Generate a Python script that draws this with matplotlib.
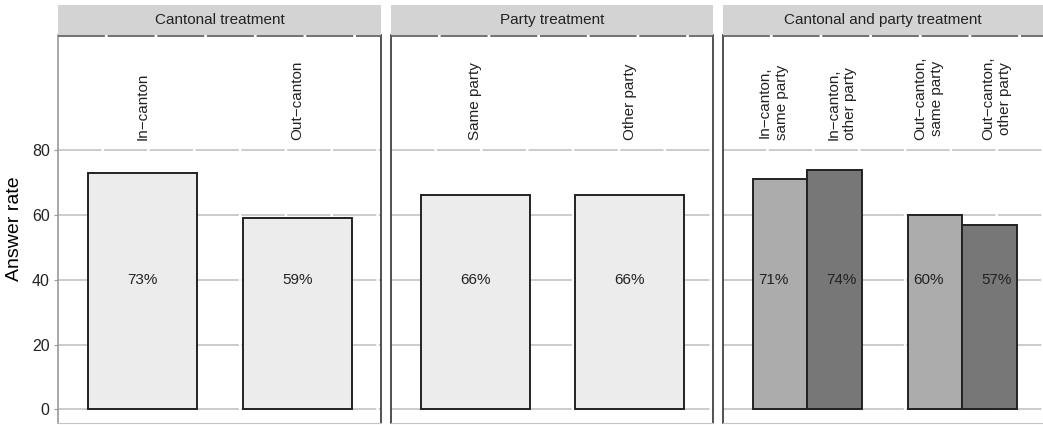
import matplotlib
matplotlib.use("Agg")
import matplotlib.pyplot as plt
from matplotlib.patches import Rectangle

plt.rcParams['font.family'] = ['Liberation Sans', 'DejaVu Sans']

# ---- data ----
panel_titles = ["Cantonal treatment", "Party treatment", "Cantonal and party treatment"]
p1_cats = ["In\u2212canton", "Out\u2212canton"]
p1_vals = [73, 59]
p2_cats = ["Same party", "Other party"]
p2_vals = [66, 66]
p3_cats = ["In\u2212canton,\nsame party", "In\u2212canton,\nother party",
           "Out\u2212canton,\nsame party", "Out\u2212canton,\nother party"]
p3_vals = [71, 74, 60, 57]
yticks = [0, 20, 40, 60, 80]
ylabel = "Answer rate"

W, H = 1043, 425
fig = plt.figure(figsize=(W / 100, H / 100), dpi=100)

panels_px = [(58, 381), (391, 713), (723, 1046)]
top_px, bot_px = 35, 423
strip_top = 5
grid_c = "#c4c4c4"
dark = "#333333"

axes = []
for i, (x0, x1) in enumerate(panels_px):
    ax = fig.add_axes([x0 / W, (H - bot_px) / H, (x1 - x0) / W, (bot_px - top_px) / H])
    ax.set_ylim(-4.2, 115.5)
    ax.set_xlim(-0.545, 1.54)
    ax.set_yticks(yticks)
    for y in yticks:
        ax.axhline(y, color=grid_c, lw=1.2, dashes=(26, 1.5), zorder=0)
    ax.axhline(115.2, color="#666666", lw=1.3, dashes=(26, 1.5), zorder=5, clip_on=False)
    ax.set_xticks([])
    ax.spines["top"].set_visible(False)
    ax.spines["bottom"].set_color(grid_c)
    ax.spines["left"].set_color(dark if i > 0 else "#999999")
    ax.spines["right"].set_color(dark)
    ax.spines["left"].set_linewidth(1.2)
    ax.spines["right"].set_linewidth(1.2)
    if i == 2:
        ax.spines["right"].set_visible(False)
    if i == 0:
        ax.tick_params(axis="y", length=3, color="#999999", labelsize=11.5, labelcolor="#222222", pad=3)
        ax.set_ylabel(ylabel, fontsize=14, labelpad=6)
    else:
        ax.tick_params(axis="y", length=0, labelleft=False)
    # strip
    fig.patches.append(Rectangle((x0 / W, (H - top_px) / H), (x1 - x0) / W, (top_px - strip_top) / H,
                                 transform=fig.transFigure, facecolor="#d3d3d3", edgecolor="none"))
    fig.text((x0 + min(x1, W)) / 2 / W, (H - (top_px + strip_top) / 2) / H, panel_titles[i],
             ha="center", va="center", fontsize=11, color="#222222")
    axes.append(ax)

label_y = 83

# Panel 1 and 2
for ax, cats, vals in [(axes[0], p1_cats, p1_vals), (axes[1], p2_cats, p2_vals)]:
    xs = list(range(len(cats)))
    ax.bar(xs, vals, width=0.705, color="#ececec", edgecolor="#222222", linewidth=1.4, zorder=2)
    for x, c, v in zip(xs, cats, vals):
        ax.text(x, label_y, c, rotation=90, ha="center", va="bottom", fontsize=11, color="#222222")
        ax.text(x, 40, f"{v}%", ha="center", va="center", fontsize=11, color="#222222", zorder=3)

# Panel 3
ax = axes[2]
bw = 0.352
groups = [0, 0, 1, 1]
sides = [-1, 1, -1, 1]
fills = ["#acacac", "#777777", "#acacac", "#777777"]
for g, s, c, v, f in zip(groups, sides, p3_cats, p3_vals, fills):
    ax.bar(g + s * bw / 2, v, width=bw, color=f, edgecolor="#222222", linewidth=1.4, zorder=2)
    tx = g + s * 0.22
    ax.text(tx, label_y, c, rotation=90, ha="center", va="bottom", fontsize=11,
            color="#222222", linespacing=1.25)
    ax.text(tx, 40, f"{v}%", ha="center", va="center", fontsize=11, color="#222222", zorder=3)

fig.savefig("out.png", dpi=100)
